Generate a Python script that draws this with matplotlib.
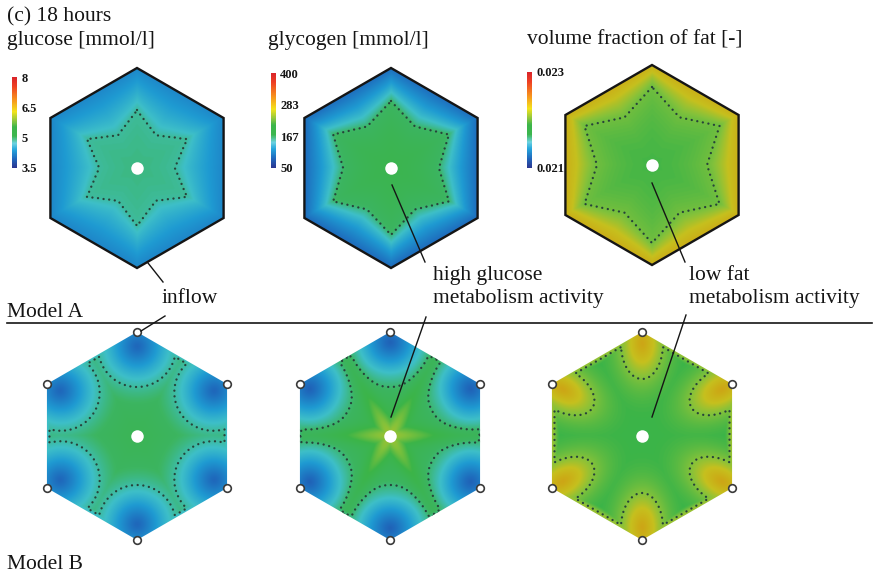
import numpy as np
import matplotlib
matplotlib.use("Agg")
import matplotlib.pyplot as plt
from matplotlib.colors import LinearSegmentedColormap, Normalize
from matplotlib.cm import ScalarMappable
from matplotlib.patches import Polygon

W, H = 882, 574

# colour scales of the three quantities
quantities = ["glucose [mmol/l]", "glycogen [mmol/l]", "volume fraction of fat [-]"]
scale_min = [3.5, 50, 0.021]
scale_max = [8, 400, 0.023]
scale_ticks = [[3.5, 5, 6.5, 8], [50, 167, 283, 400], [0.021, 0.023]]
scale_ticklabels = [["3.5", "5", "6.5", "8"], ["50", "167", "283", "400"], ["0.021", "0.023"]]

# Model A (inflow along the whole lobule boundary)
a_centre = [4.95, 196, 0.02192]     # at the central vein
a_contour = [4.87, 170, 0.02200]    # on the dotted line
a_edge = [4.22, 88, 0.02228]        # on the lobule edge

# Model B (inflow at the six portal corners)
b_field = [5.30, 206, 0.02188]      # away from the corners
b_contour = [4.85, 168, 0.02203]    # on the dotted line
b_inflow = [3.95, 82, 0.02233]      # at the corners
b_spoke = [0.0, 40.0, 0.0]          # radial streaks from the central vein

cmap_bar = LinearSegmentedColormap.from_list("rainbow_bar", [
    (0.00, "#2b3590"), (0.10, "#2068bd"), (0.20, "#25a6dc"), (0.27, "#6cd2e0"),
    (0.35, "#3cb64e"), (0.45, "#3cb54a"), (0.52, "#8dc63f"), (0.62, "#f3e31b"),
    (0.75, "#f7941d"), (0.90, "#ee4023"), (1.00, "#d9242a")])
# lit surfaces look a little duller than the legend bar
cmap_surf = LinearSegmentedColormap.from_list("rainbow_surf", [
    (0.00, "#2b3590"), (0.10, "#1f68bb"), (0.20, "#1f9bd2"), (0.27, "#3ebfc8"),
    (0.35, "#3cb560"), (0.45, "#3bb448"), (0.52, "#86c23a"), (0.58, "#c6c01e"),
    (0.65, "#cbab16"), (0.72, "#d29418"), (0.85, "#d85a20"), (1.00, "#d02828")])

top_centres = [(137, 168), (391, 168), (652, 165)]
top_R = 100
top_star = [(38, 58), (48, 67), (55, 78)]          # notch / point radius of the dotted star
top_ramp = [0.85, 0.85, 1.3]                       # steepness of the rise towards the edge
bot_centres = [(137, 436), (390, 436), (642, 436)]
bot_R = 104
# inset of blob centre from the corner, semi-axes of the dotted contour (along, across)
bot_blob = [(15, 40, 39), (11, 44, 45), (12, 35, 21)]

dot_colour = "#27433a"
ink = "#151515"
serif = "Liberation Serif"


def hex_vertices(cx, cy, R):
    ang = np.deg2rad(30 + 60 * np.arange(6))
    return np.column_stack([cx + R * np.cos(ang), cy - R * np.sin(ang)])


def grid(cx, cy, R):
    xs = np.arange(cx - R - 3, cx + R + 3, 0.5)
    ys = np.arange(cy - R - 3, cy + R + 3, 0.5)
    X, Y = np.meshgrid(xs, ys)
    dx, dy = X - cx, cy - Y
    return X, Y, np.hypot(dx, dy), np.arctan2(dy, dx), dx, dy


def edge_angle(th):
    # angle to the nearest edge normal (pointy-top hexagon)
    return np.mod(th + np.pi / 6, np.pi / 3) - np.pi / 6


def star_radius(th, rn, rp):
    phi = np.mod(th, np.pi / 3)
    phi = np.minimum(phi, np.pi / 3 - phi)
    return rn * rp * 0.5 / (rn * np.sin(phi) + rp * np.sin(np.pi / 6 - phi))


def model_a(r, th, R, rn, rp, vc, vl, ve, ramp):
    hd = R * np.cos(np.pi / 6) / np.cos(edge_angle(th))
    st = star_radius(th, rn, rp)
    q = np.clip(r / st, 0, 1)
    u = np.clip((r - st) / (hd - st), 0, 1)
    inner = vc + (vl - vc) * q ** 2
    outer = vl + (ve - vl) * u ** ramp
    return np.where(r <= st, inner, outer)


def model_b(r, th, dx, dy, R, blob, vg, vl, vb, spoke):
    inset, a_c, b_c = blob
    bl = (vl - vg) / (vb - vg)
    B = np.zeros_like(r)
    for k in range(6):
        ang = np.deg2rad(30 + 60 * k)
        ux, uy = np.cos(ang), np.sin(ang)
        px, py = dx - R * ux, dy - R * uy
        along = -(px * ux + py * uy)
        across = -px * uy + py * ux
        d = np.sqrt(((along - inset) / a_c) ** 2 + (across / b_c) ** 2)
        B = np.maximum(B, np.exp(np.log(bl) * d ** 1.4))
    psi = edge_angle(th)
    edge_d = R * np.cos(np.pi / 6) - r * np.cos(psi)
    B = np.maximum(B, 1.3 * bl * np.exp(-(edge_d / 5.0) ** 2))
    V = vg + (vb - vg) * B
    if spoke:
        S = np.exp(-(r * np.abs(np.sin(psi)) / 9.0) ** 2) * np.exp(-r / 110.0)
        V = V + spoke * S * (1 - B)
    return V


fig = plt.figure(figsize=(W / 100, H / 100), dpi=100)
ax = fig.add_axes([0, 0, 1, 1])


def draw_field(X, Y, V, vl, norm, cx, cy, R, outline):
    hexagon = Polygon(hex_vertices(cx, cy, R), closed=True, fc="none",
                      ec=ink if outline else "none", lw=1.7, zorder=4)
    ax.add_patch(hexagon)
    im = ax.imshow(V, cmap=cmap_surf, norm=norm, origin="upper",
                   extent=(X.min(), X.max(), Y.max(), Y.min()),
                   interpolation="bilinear", zorder=1)
    im.set_clip_path(hexagon)
    cs = ax.contour(X, Y, V, levels=[vl], colors=[dot_colour], linewidths=1.7, zorder=2)
    cs.set_linestyle((0, (0.01, 2.4)))
    cs.set_capstyle("round")
    cs.set_clip_path(hexagon)
    ax.plot(cx, cy, "o", ms=9, color="white", mec="none", zorder=5)


for i in range(3):
    norm = Normalize(scale_min[i], scale_max[i])

    cx, cy = top_centres[i]
    X, Y, r, th, dx, dy = grid(cx, cy, top_R)
    V = model_a(r, th, top_R, *top_star[i], a_centre[i], a_contour[i], a_edge[i],
                top_ramp[i])
    draw_field(X, Y, V, a_contour[i], norm, cx, cy, top_R, True)

    cx, cy = bot_centres[i]
    X, Y, r, th, dx, dy = grid(cx, cy, bot_R)
    V = model_b(r, th, dx, dy, bot_R, bot_blob[i], b_field[i], b_contour[i],
                b_inflow[i], b_spoke[i])
    draw_field(X, Y, V, b_contour[i], norm, cx, cy, bot_R, False)
    corners = hex_vertices(cx, cy, bot_R)
    ax.plot(corners[:, 0], corners[:, 1], "o", ms=5.5, mfc="white", mec="#3a3a3a",
            mew=1.2, zorder=6)

# colour bars
bar_boxes = [(12, 77, 168), (271, 73, 168), (527, 72, 168)]
for i, (x0, y0, y1) in enumerate(bar_boxes):
    cax = fig.add_axes([x0 / W, 1 - y1 / H, 5 / W, (y1 - y0) / H])
    cb = fig.colorbar(ScalarMappable(Normalize(scale_min[i], scale_max[i]), cmap_bar),
                      cax=cax, ticks=scale_ticks[i])
    cb.outline.set_visible(False)
    cb.set_ticklabels(scale_ticklabels[i])
    cax.tick_params(length=0, pad=3)
    for t in cax.get_yticklabels():
        t.set_fontfamily(serif)
        t.set_fontweight("bold")
        t.set_fontsize(9)
        t.set_color(ink)

# titles and annotations
txt = dict(fontsize=15.5, family=serif, color=ink, va="baseline", ha="left")
ax.text(7, 21, "(c) 18 hours", **txt)
ax.text(7, 45, quantities[0], **txt)
ax.text(268, 45, quantities[1], **txt)
ax.text(527, 45, quantities[2], **txt)
ax.text(162, 303, "inflow", **txt)
ax.text(433, 280, "high glucose", **txt)
ax.text(433, 303, "metabolism activity", **txt)
ax.text(689, 280, "low fat", **txt)
ax.text(689, 303, "metabolism activity", **txt)
ax.text(7, 317, "Model A", **txt)
ax.text(7, 569, "Model B", **txt)

ax.plot([7, 872], [323, 323], color=ink, lw=1.2)
leaders = [((148, 263), (163, 282)), ((165, 316), (141, 331)),
           ((392, 185), (425, 262)), ((426, 317), (391, 417)),
           ((652, 183), (685, 262)), ((686, 315), (652, 417))]
for (xa, ya), (xb, yb) in leaders:
    ax.plot([xa, xb], [ya, yb], color=ink, lw=1.0, zorder=7)

ax.set_xlim(0, W)
ax.set_ylim(H, 0)
ax.set_aspect("auto")
ax.axis("off")
fig.savefig("out.png", dpi=100)
